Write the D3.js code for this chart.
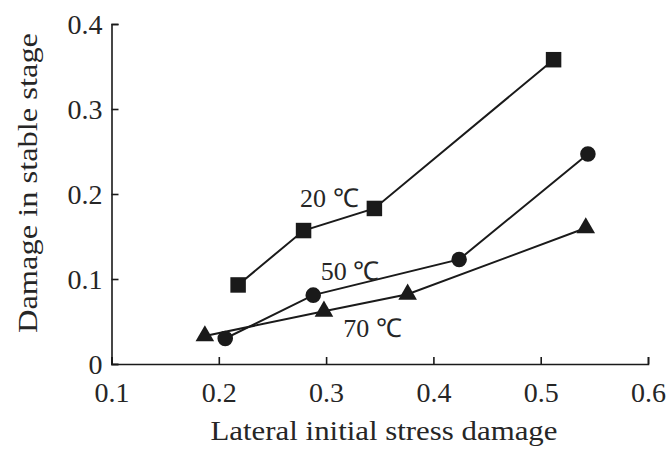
<!DOCTYPE html>
<html><head><meta charset="utf-8">
<script src="https://cdn.jsdelivr.net/npm/d3@7"></script>
<style>body{margin:0;background:#fff}svg{display:block}</style>
</head><body>
<svg id="c" width="667" height="450"></svg>
<script>
const xTicks = [0.1, 0.2, 0.3, 0.4, 0.5, 0.6];
const yTicks = [0, 0.1, 0.2, 0.3, 0.4];
const yTickLabels = ["0", "0.1", "0.2", "0.3", "0.4"];
const s20x = [0.218, 0.279, 0.345, 0.512];
const s20y = [0.093, 0.157, 0.183, 0.358];
const s50x = [0.206, 0.288, 0.424, 0.544];
const s50y = [0.030, 0.081, 0.123, 0.247];
const s70x = [0.187, 0.298, 0.376, 0.542];
const s70y = [0.033, 0.062, 0.082, 0.160];
const seriesNames = ["20 ℃", "50 ℃", "70 ℃"];
const xTitle = "Lateral initial stress damage";
const yTitle = "Damage in stable stage";

const FONT = '"Liberation Serif"';
const TXT = "#262626";
const svg = d3.select("#c");
const x = d3.scaleLinear().domain([0.1, 0.6]).range([111.5, 648]);
const y = d3.scaleLinear().domain([0, 0.4]).range([364, 24]);
const col = "#1a1a1a";

const xa = svg.append("g").attr("transform", `translate(0,${y(0)})`)
  .call(d3.axisBottom(x).tickValues(xTicks).tickSize(-7).tickFormat(d3.format(".1f")));
const ya = svg.append("g").attr("transform", `translate(${x(0.1)},0)`)
  .call(d3.axisLeft(y).tickValues(yTicks).tickSize(-7).tickPadding(10).tickFormat((d, i) => yTickLabels[i]));
[xa, ya].forEach(a => {
  a.attr("font-family", null).attr("font-size", null);
  a.select(".domain").attr("stroke", col).attr("stroke-width", 1.6);
  a.selectAll(".tick line").attr("stroke", col).attr("stroke-width", 1.6);
  a.selectAll(".tick text").style("font-family", FONT).style("font-size", "28px").attr("fill", TXT);
});
ya.selectAll(".tick text").attr("x", -9).attr("dy", "0.34em");
xa.selectAll(".tick text").attr("y", 38).attr("dy", 0);

const series = [
  {xs: s20x, ys: s20y, sym: d3.symbolSquare, size: 240},
  {xs: s50x, ys: s50y, sym: d3.symbolCircle, size: 190},
  {xs: s70x, ys: s70y, sym: d3.symbolTriangle, size: 150}
];
const line = d3.line().x(d => x(d[0])).y(d => y(d[1]));
series.forEach(s => {
  const pts = s.xs.map((v, i) => [v, s.ys[i]]);
  svg.append("path").attr("d", line(pts)).attr("fill", "none").attr("stroke", col).attr("stroke-width", 2);
});
series.forEach(s => {
  const pts = s.xs.map((v, i) => [v, s.ys[i]]);
  svg.selectAll(null).data(pts).enter().append("path")
    .attr("d", d3.symbol().type(s.sym).size(s.size))
    .attr("transform", d => `translate(${x(d[0])},${y(d[1])})`)
    .attr("fill", col);
});

const labelPos = [[0.2757, 0.185], [0.295, 0.099], [0.316, 0.032]];
seriesNames.forEach((n, i) => {
  svg.append("text").attr("x", x(labelPos[i][0])).attr("y", y(labelPos[i][1]))
    .style("font-family", FONT).style("font-size", "26px").attr("fill", TXT).text(n);
});

svg.append("text").attr("x", 384).attr("y", 440).attr("text-anchor", "middle")
  .attr("textLength", 347).attr("lengthAdjust", "spacingAndGlyphs")
  .style("font-family", FONT).style("font-size", "28px").attr("fill", TXT).text(xTitle);
svg.append("text").attr("transform", `translate(37,183) rotate(-90)`)
  .attr("text-anchor", "middle").attr("textLength", 300).attr("lengthAdjust", "spacingAndGlyphs")
  .style("font-family", FONT).style("font-size", "28px").attr("fill", TXT).text(yTitle);
</script>
</body></html>
